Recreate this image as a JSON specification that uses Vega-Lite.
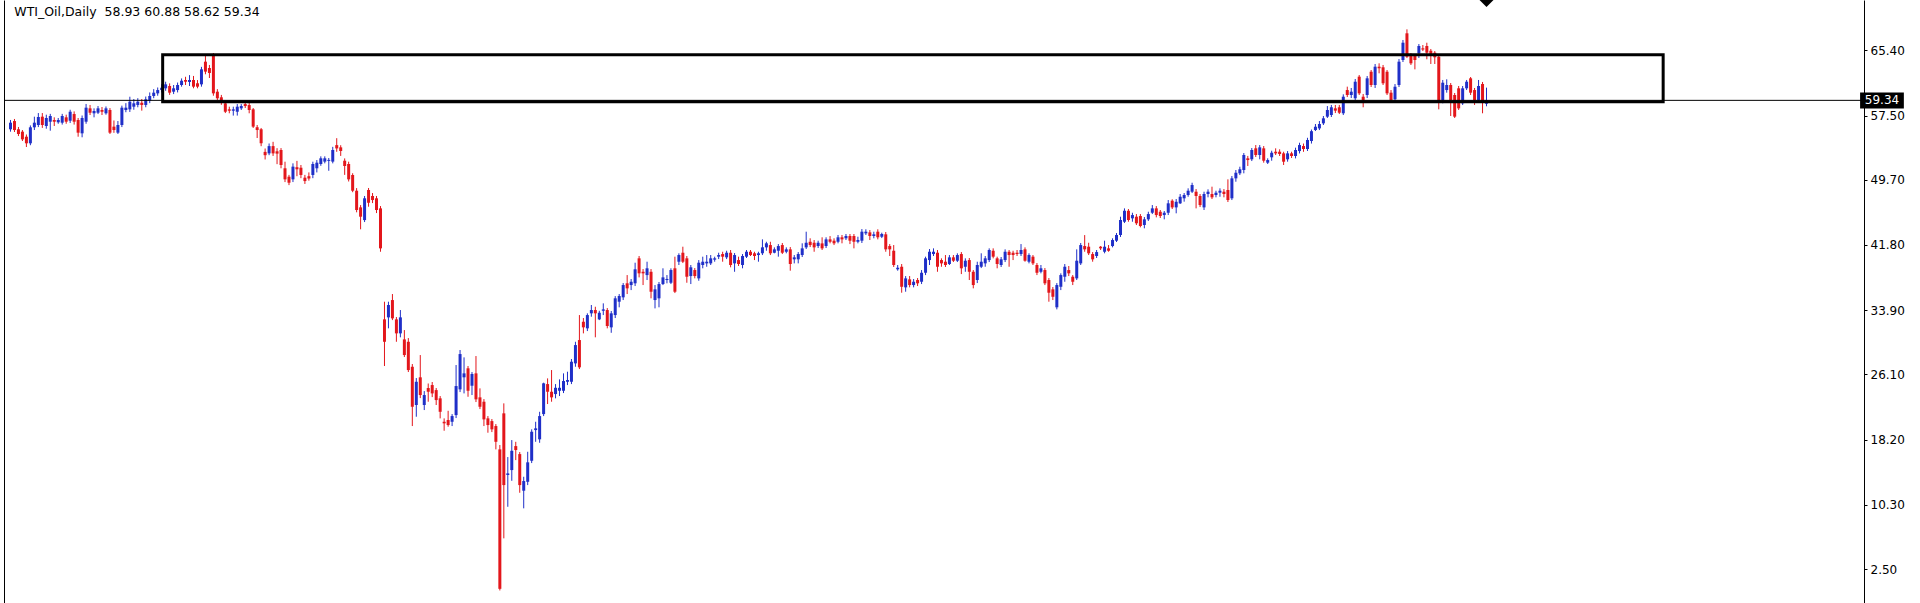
{
"$schema":"https://vega.github.io/schema/vega-lite/v6.json",
"autosize":"none",
"width":1860,"height":603,
"padding":{"left":4,"top":0,"right":56,"bottom":0},
"background":"white",
"view":{"stroke":null},
"config":{"font":"DejaVu Sans"},
"datasets":{
"candles":[
{"i":0,"o":55.83,"h":56.96,"l":55.54,"c":56.63},{"i":1,"o":56.83,"h":57.08,"l":55.5,"c":55.74},{"i":2,"o":55.83,"h":56.11,"l":55.01,"c":55.26},{"i":3,"o":55.54,"h":55.74,"l":54.41,"c":54.61},{"i":4,"o":54.93,"h":55.2,"l":53.68,"c":54.13},{"i":5,"o":54.13,"h":56.3,"l":53.9,"c":56.07},{"i":6,"o":56.07,"h":57.36,"l":55.74,"c":56.63},{"i":7,"o":56.35,"h":57.8,"l":56.1,"c":57.32},{"i":8,"o":57.36,"h":57.8,"l":56.0,"c":56.35},{"i":9,"o":56.23,"h":57.6,"l":55.9,"c":57.2},
{"i":10,"o":56.75,"h":57.7,"l":55.66,"c":57.44},{"i":11,"o":56.96,"h":57.28,"l":56.23,"c":56.75},{"i":12,"o":56.68,"h":57.2,"l":56.5,"c":56.96},{"i":13,"o":56.63,"h":57.7,"l":56.4,"c":57.44},{"i":14,"o":57.28,"h":57.6,"l":56.5,"c":56.75},{"i":15,"o":56.87,"h":58.2,"l":56.6,"c":57.96},{"i":16,"o":57.68,"h":58.0,"l":56.4,"c":56.75},{"i":17,"o":56.96,"h":57.2,"l":54.93,"c":55.42},{"i":18,"o":55.34,"h":57.5,"l":54.86,"c":57.2},{"i":19,"o":56.75,"h":58.9,"l":56.5,"c":58.45},
{"i":20,"o":58.37,"h":58.78,"l":57.56,"c":57.84},{"i":21,"o":57.77,"h":58.37,"l":57.28,"c":58.05},{"i":22,"o":57.84,"h":58.65,"l":57.68,"c":58.37},{"i":23,"o":58.17,"h":58.53,"l":57.56,"c":57.96},{"i":24,"o":57.77,"h":58.6,"l":57.6,"c":58.37},{"i":25,"o":58.17,"h":58.4,"l":55.26,"c":55.42},{"i":26,"o":56.15,"h":56.9,"l":55.4,"c":55.74},{"i":27,"o":55.42,"h":56.83,"l":55.26,"c":56.35},{"i":28,"o":56.35,"h":58.7,"l":56.1,"c":58.45},{"i":29,"o":58.17,"h":59.0,"l":57.9,"c":58.45},
{"i":30,"o":58.25,"h":59.78,"l":57.93,"c":59.18},{"i":31,"o":58.57,"h":59.5,"l":58.2,"c":58.98},{"i":32,"o":58.78,"h":59.6,"l":58.5,"c":59.18},{"i":33,"o":59.05,"h":59.5,"l":58.09,"c":58.78},{"i":34,"o":58.78,"h":59.8,"l":58.5,"c":59.47},{"i":35,"o":59.3,"h":60.3,"l":59.0,"c":59.87},{"i":36,"o":59.87,"h":60.7,"l":59.6,"c":60.27},{"i":37,"o":60.19,"h":60.9,"l":59.9,"c":60.59},{"i":38,"o":60.59,"h":61.3,"l":60.3,"c":60.87},{"i":39,"o":60.8,"h":61.6,"l":60.5,"c":61.28},
{"i":40,"o":61.08,"h":61.4,"l":60.0,"c":60.27},{"i":41,"o":60.39,"h":61.2,"l":60.1,"c":60.8},{"i":42,"o":60.59,"h":61.5,"l":60.3,"c":61.2},{"i":43,"o":61.2,"h":62.0,"l":61.0,"c":61.72},{"i":44,"o":61.81,"h":62.2,"l":61.2,"c":61.6},{"i":45,"o":61.57,"h":62.4,"l":61.08,"c":61.81},{"i":46,"o":61.81,"h":62.3,"l":60.8,"c":61.0},{"i":47,"o":61.41,"h":61.8,"l":60.8,"c":61.0},{"i":48,"o":61.28,"h":63.4,"l":61.0,"c":63.1},{"i":49,"o":64.03,"h":64.84,"l":62.5,"c":62.82},
{"i":50,"o":63.26,"h":63.63,"l":62.05,"c":62.66},{"i":51,"o":64.84,"h":65.08,"l":59.9,"c":60.19},{"i":52,"o":60.39,"h":60.7,"l":59.38,"c":59.59},{"i":53,"o":59.71,"h":60.0,"l":58.8,"c":59.05},{"i":54,"o":58.98,"h":59.26,"l":57.8,"c":57.96},{"i":55,"o":58.25,"h":58.57,"l":57.77,"c":58.08},{"i":56,"o":58.08,"h":58.57,"l":57.49,"c":58.25},{"i":57,"o":57.96,"h":58.89,"l":57.49,"c":58.57},{"i":58,"o":58.37,"h":58.89,"l":58.17,"c":58.65},{"i":59,"o":58.89,"h":59.14,"l":58.41,"c":58.65},
{"i":60,"o":58.77,"h":59.02,"l":57.77,"c":58.17},{"i":61,"o":58.25,"h":58.41,"l":55.99,"c":56.15},{"i":62,"o":56.08,"h":56.35,"l":54.77,"c":55.74},{"i":63,"o":55.83,"h":55.99,"l":53.78,"c":54.13},{"i":64,"o":53.09,"h":53.5,"l":52.17,"c":52.69},{"i":65,"o":52.91,"h":54.11,"l":52.69,"c":53.79},{"i":66,"o":53.79,"h":54.31,"l":52.6,"c":52.91},{"i":67,"o":53.16,"h":53.54,"l":51.6,"c":52.88},{"i":68,"o":53.32,"h":53.55,"l":51.1,"c":51.5},{"i":69,"o":51.1,"h":51.9,"l":49.43,"c":49.76},
{"i":70,"o":50.08,"h":50.3,"l":49.06,"c":49.35},{"i":71,"o":49.76,"h":51.7,"l":49.43,"c":51.3},{"i":72,"o":51.23,"h":52.0,"l":50.14,"c":50.98},{"i":73,"o":51.17,"h":51.5,"l":49.9,"c":50.29},{"i":74,"o":49.96,"h":50.3,"l":49.2,"c":49.55},{"i":75,"o":50.14,"h":50.6,"l":49.6,"c":49.86},{"i":76,"o":50.29,"h":51.9,"l":49.9,"c":51.62},{"i":77,"o":51.1,"h":52.1,"l":50.6,"c":51.78},{"i":78,"o":51.62,"h":52.55,"l":51.4,"c":52.31},{"i":79,"o":51.91,"h":52.55,"l":51.7,"c":52.31},
{"i":80,"o":52.0,"h":52.35,"l":50.8,"c":52.12},{"i":81,"o":51.91,"h":53.7,"l":51.7,"c":53.32},{"i":82,"o":53.91,"h":54.75,"l":53.1,"c":53.51},{"i":83,"o":53.64,"h":53.9,"l":52.6,"c":53.2},{"i":84,"o":52.02,"h":52.3,"l":50.3,"c":51.38},{"i":85,"o":51.62,"h":51.9,"l":49.5,"c":49.76},{"i":86,"o":50.29,"h":50.5,"l":48.2,"c":48.38},{"i":87,"o":48.38,"h":48.7,"l":45.76,"c":46.04},{"i":88,"o":46.36,"h":46.64,"l":43.7,"c":45.23},{"i":89,"o":44.82,"h":47.74,"l":44.58,"c":47.46},
{"i":90,"o":48.47,"h":48.71,"l":46.44,"c":46.92},{"i":91,"o":47.74,"h":48.1,"l":46.88,"c":47.25},{"i":92,"o":47.46,"h":47.74,"l":45.67,"c":46.04},{"i":93,"o":46.24,"h":46.52,"l":40.98,"c":41.39},{"i":94,"o":32.78,"h":34.92,"l":27.12,"c":30.06},{"i":95,"o":33.02,"h":34.92,"l":31.69,"c":34.52},{"i":96,"o":35.12,"h":35.85,"l":32.69,"c":32.9},{"i":97,"o":32.78,"h":33.06,"l":30.06,"c":31.08},{"i":98,"o":31.08,"h":33.91,"l":30.6,"c":33.02},{"i":99,"o":30.35,"h":31.48,"l":28.21,"c":28.45},
{"i":100,"o":30.06,"h":30.51,"l":26.39,"c":26.63},{"i":101,"o":27.03,"h":27.36,"l":19.84,"c":22.18},{"i":102,"o":22.39,"h":25.66,"l":20.97,"c":25.21},{"i":103,"o":25.75,"h":28.45,"l":23.23,"c":23.6},{"i":104,"o":22.39,"h":24.08,"l":21.78,"c":23.6},{"i":105,"o":24.45,"h":25.0,"l":22.79,"c":24.0},{"i":106,"o":24.81,"h":25.18,"l":23.35,"c":23.8},{"i":107,"o":24.2,"h":24.45,"l":22.39,"c":22.99},{"i":108,"o":23.2,"h":23.48,"l":20.77,"c":21.57},{"i":109,"o":20.36,"h":20.77,"l":19.27,"c":20.17},
{"i":110,"o":20.57,"h":21.69,"l":19.76,"c":19.96},{"i":111,"o":20.36,"h":21.29,"l":19.84,"c":21.05},{"i":112,"o":21.17,"h":27.24,"l":20.81,"c":24.69},{"i":113,"o":24.29,"h":29.06,"l":23.96,"c":28.57},{"i":114,"o":25.75,"h":28.17,"l":23.8,"c":26.23},{"i":115,"o":26.84,"h":27.12,"l":23.39,"c":24.12},{"i":116,"o":24.73,"h":26.39,"l":23.6,"c":26.15},{"i":117,"o":26.23,"h":28.33,"l":22.75,"c":23.08},{"i":118,"o":23.32,"h":24.41,"l":21.9,"c":22.18},{"i":119,"o":22.79,"h":23.11,"l":19.84,"c":20.65},
{"i":120,"o":20.77,"h":21.05,"l":19.03,"c":19.96},{"i":121,"o":20.44,"h":20.69,"l":19.11,"c":19.44},{"i":122,"o":19.84,"h":20.08,"l":17.01,"c":17.93},{"i":123,"o":17.01,"h":17.54,"l":-0.1,"c":0.1},{"i":124,"o":21.38,"h":22.59,"l":6.22,"c":12.68},{"i":125,"o":13.9,"h":16.08,"l":10.05,"c":14.1},{"i":126,"o":14.5,"h":18.14,"l":13.2,"c":16.84},{"i":127,"o":17.41,"h":17.93,"l":15.71,"c":16.93},{"i":128,"o":16.44,"h":16.69,"l":11.75,"c":12.68},{"i":129,"o":12.0,"h":13.69,"l":9.86,"c":13.17},
{"i":130,"o":13.08,"h":16.72,"l":12.68,"c":15.44},{"i":131,"o":15.63,"h":19.44,"l":15.35,"c":19.15},{"i":132,"o":19.35,"h":20.36,"l":17.93,"c":19.56},{"i":133,"o":18.23,"h":21.57,"l":17.81,"c":21.05},{"i":134,"o":21.29,"h":25.1,"l":21.05,"c":25.02},{"i":135,"o":24.93,"h":25.62,"l":22.51,"c":24.0},{"i":136,"o":24.0,"h":26.63,"l":22.79,"c":23.32},{"i":137,"o":23.72,"h":24.93,"l":23.2,"c":24.48},{"i":138,"o":24.12,"h":25.5,"l":23.48,"c":24.48},{"i":139,"o":24.12,"h":26.23,"l":23.84,"c":25.3},
{"i":140,"o":25.21,"h":26.43,"l":24.81,"c":25.42},{"i":141,"o":25.21,"h":27.97,"l":24.93,"c":27.64},{"i":142,"o":27.44,"h":30.06,"l":27.03,"c":29.66},{"i":143,"o":30.27,"h":33.3,"l":26.75,"c":26.96},{"i":144,"o":32.49,"h":32.94,"l":31.08,"c":31.81},{"i":145,"o":31.69,"h":33.51,"l":31.36,"c":33.3},{"i":146,"o":33.51,"h":34.52,"l":33.1,"c":33.91},{"i":147,"o":33.91,"h":34.31,"l":30.6,"c":33.51},{"i":148,"o":32.78,"h":33.82,"l":32.69,"c":33.58},{"i":149,"o":33.82,"h":34.72,"l":33.3,"c":33.99},
{"i":150,"o":33.91,"h":34.15,"l":31.69,"c":31.97},{"i":151,"o":31.81,"h":33.79,"l":31.15,"c":33.51},{"i":152,"o":33.3,"h":35.6,"l":32.94,"c":35.33},{"i":153,"o":34.92,"h":35.85,"l":34.24,"c":35.61},{"i":154,"o":35.45,"h":37.18,"l":35.12,"c":36.94},{"i":155,"o":37.15,"h":38.15,"l":35.85,"c":36.54},{"i":156,"o":36.94,"h":37.67,"l":36.33,"c":37.34},{"i":157,"o":37.15,"h":39.65,"l":36.82,"c":38.85},{"i":158,"o":40.18,"h":40.46,"l":37.87,"c":38.36},{"i":159,"o":38.55,"h":38.88,"l":36.94,"c":38.36},
{"i":160,"o":38.15,"h":39.77,"l":37.55,"c":38.97},{"i":161,"o":38.55,"h":38.88,"l":35.33,"c":36.13},{"i":162,"o":35.12,"h":36.94,"l":34.11,"c":36.42},{"i":163,"o":35.33,"h":37.31,"l":34.24,"c":37.06},{"i":164,"o":37.06,"h":38.97,"l":36.94,"c":37.87},{"i":165,"o":37.55,"h":38.15,"l":37.15,"c":37.68},{"i":166,"o":37.22,"h":38.97,"l":37.06,"c":38.76},{"i":167,"o":38.97,"h":40.38,"l":35.97,"c":36.13},{"i":168,"o":39.77,"h":40.79,"l":39.37,"c":40.58},{"i":169,"o":40.86,"h":41.59,"l":39.61,"c":39.77},
{"i":170,"o":40.18,"h":40.46,"l":37.22,"c":37.95},{"i":171,"o":38.03,"h":39.37,"l":37.06,"c":39.09},{"i":172,"o":38.76,"h":39.0,"l":37.75,"c":38.03},{"i":173,"o":37.75,"h":39.97,"l":37.46,"c":39.65},{"i":174,"o":39.37,"h":40.38,"l":38.97,"c":39.77},{"i":175,"o":39.57,"h":40.58,"l":39.16,"c":39.77},{"i":176,"o":39.57,"h":40.58,"l":39.37,"c":40.18},{"i":177,"o":40.02,"h":40.38,"l":39.77,"c":40.18},{"i":178,"o":40.38,"h":40.86,"l":40.09,"c":40.58},{"i":179,"o":40.7,"h":40.98,"l":39.77,"c":40.38},
{"i":180,"o":40.3,"h":41.1,"l":40.09,"c":40.86},{"i":181,"o":40.86,"h":41.19,"l":39.09,"c":39.37},{"i":182,"o":39.57,"h":40.82,"l":38.55,"c":40.58},{"i":183,"o":39.97,"h":40.38,"l":39.25,"c":39.49},{"i":184,"o":39.37,"h":40.7,"l":38.97,"c":40.46},{"i":185,"o":40.38,"h":41.19,"l":40.22,"c":40.98},{"i":186,"o":40.98,"h":41.19,"l":40.46,"c":40.58},{"i":187,"o":40.79,"h":40.98,"l":39.97,"c":40.46},{"i":188,"o":40.58,"h":40.98,"l":39.77,"c":40.79},{"i":189,"o":40.79,"h":42.48,"l":40.58,"c":41.51},
{"i":190,"o":41.51,"h":42.19,"l":41.1,"c":42.0},{"i":191,"o":41.79,"h":42.19,"l":40.58,"c":40.79},{"i":192,"o":40.86,"h":41.51,"l":40.79,"c":41.27},{"i":193,"o":41.1,"h":41.91,"l":40.38,"c":41.67},{"i":194,"o":41.79,"h":42.04,"l":40.7,"c":40.86},{"i":195,"o":40.98,"h":41.51,"l":40.79,"c":41.27},{"i":196,"o":41.27,"h":41.55,"l":38.68,"c":39.49},{"i":197,"o":40.06,"h":40.58,"l":39.57,"c":40.3},{"i":198,"o":40.06,"h":40.94,"l":39.57,"c":40.7},{"i":199,"o":40.58,"h":42.0,"l":40.34,"c":41.39},
{"i":200,"o":41.51,"h":43.41,"l":41.31,"c":42.07},{"i":201,"o":42.19,"h":42.61,"l":41.55,"c":41.79},{"i":202,"o":42.07,"h":42.4,"l":40.98,"c":41.51},{"i":203,"o":41.67,"h":42.32,"l":41.43,"c":42.07},{"i":204,"o":41.99,"h":42.73,"l":41.19,"c":41.39},{"i":205,"o":41.67,"h":42.73,"l":41.43,"c":42.48},{"i":206,"o":42.48,"h":42.88,"l":42.0,"c":42.19},{"i":207,"o":42.32,"h":42.61,"l":41.79,"c":42.0},{"i":208,"o":42.19,"h":43.01,"l":42.0,"c":42.73},{"i":209,"o":42.73,"h":43.01,"l":42.0,"c":42.48},
{"i":210,"o":42.61,"h":43.13,"l":42.4,"c":42.89},{"i":211,"o":42.89,"h":43.13,"l":41.91,"c":42.32},{"i":212,"o":42.89,"h":43.13,"l":41.39,"c":42.19},{"i":213,"o":42.19,"h":42.8,"l":42.0,"c":42.4},{"i":214,"o":42.32,"h":43.73,"l":42.04,"c":43.41},{"i":215,"o":43.21,"h":43.7,"l":43.01,"c":43.41},{"i":216,"o":43.33,"h":43.61,"l":42.4,"c":42.89},{"i":217,"o":42.89,"h":43.41,"l":42.61,"c":43.09},{"i":218,"o":43.41,"h":43.7,"l":42.48,"c":42.73},{"i":219,"o":42.8,"h":43.29,"l":42.64,"c":43.13},
{"i":220,"o":43.09,"h":43.37,"l":40.98,"c":41.27},{"i":221,"o":41.67,"h":41.91,"l":40.46,"c":41.27},{"i":222,"o":41.1,"h":41.79,"l":39.13,"c":39.37},{"i":223,"o":38.85,"h":39.37,"l":38.68,"c":39.04},{"i":224,"o":39.16,"h":39.49,"l":36.01,"c":36.73},{"i":225,"o":36.66,"h":38.03,"l":36.13,"c":37.75},{"i":226,"o":37.63,"h":38.03,"l":36.66,"c":36.94},{"i":227,"o":36.94,"h":37.67,"l":36.66,"c":37.34},{"i":228,"o":37.55,"h":37.79,"l":36.82,"c":37.15},{"i":229,"o":37.34,"h":38.76,"l":37.06,"c":38.43},
{"i":230,"o":38.43,"h":40.38,"l":38.15,"c":40.18},{"i":231,"o":39.97,"h":41.31,"l":39.37,"c":40.98},{"i":232,"o":40.7,"h":41.39,"l":40.46,"c":40.98},{"i":233,"o":40.86,"h":41.19,"l":38.55,"c":39.16},{"i":234,"o":39.97,"h":40.18,"l":39.16,"c":39.57},{"i":235,"o":39.77,"h":40.58,"l":39.13,"c":39.37},{"i":236,"o":39.49,"h":40.58,"l":39.37,"c":40.3},{"i":237,"o":40.3,"h":40.58,"l":39.73,"c":39.89},{"i":238,"o":39.89,"h":40.79,"l":39.73,"c":40.58},{"i":239,"o":40.7,"h":40.94,"l":38.27,"c":38.97},
{"i":240,"o":39.16,"h":40.18,"l":38.55,"c":39.89},{"i":241,"o":39.97,"h":40.22,"l":37.55,"c":38.55},{"i":242,"o":38.55,"h":38.76,"l":36.54,"c":36.94},{"i":243,"o":37.55,"h":39.77,"l":37.18,"c":39.37},{"i":244,"o":39.16,"h":40.79,"l":39.0,"c":39.77},{"i":245,"o":39.57,"h":40.46,"l":39.16,"c":40.18},{"i":246,"o":39.97,"h":41.39,"l":39.73,"c":41.19},{"i":247,"o":41.1,"h":41.39,"l":40.18,"c":40.38},{"i":248,"o":40.18,"h":40.38,"l":38.97,"c":39.49},{"i":249,"o":39.37,"h":40.34,"l":39.13,"c":40.06},
{"i":250,"o":39.97,"h":41.27,"l":39.73,"c":40.98},{"i":251,"o":40.98,"h":41.19,"l":39.16,"c":40.58},{"i":252,"o":40.86,"h":41.1,"l":39.97,"c":40.58},{"i":253,"o":40.86,"h":41.19,"l":40.46,"c":40.7},{"i":254,"o":40.7,"h":41.91,"l":40.46,"c":41.19},{"i":255,"o":41.27,"h":41.51,"l":39.77,"c":39.89},{"i":256,"o":39.77,"h":40.79,"l":39.57,"c":40.58},{"i":257,"o":40.38,"h":40.58,"l":39.37,"c":39.57},{"i":258,"o":39.37,"h":39.61,"l":38.15,"c":38.43},{"i":259,"o":38.55,"h":39.37,"l":38.36,"c":38.97},
{"i":260,"o":38.76,"h":39.0,"l":36.94,"c":37.15},{"i":261,"o":37.55,"h":37.79,"l":34.92,"c":36.01},{"i":262,"o":36.42,"h":36.7,"l":35.12,"c":35.52},{"i":263,"o":34.24,"h":37.18,"l":33.99,"c":36.94},{"i":264,"o":36.73,"h":38.36,"l":36.33,"c":38.15},{"i":265,"o":37.95,"h":39.49,"l":37.34,"c":39.16},{"i":266,"o":38.76,"h":39.25,"l":38.03,"c":38.36},{"i":267,"o":37.95,"h":38.15,"l":36.94,"c":37.34},{"i":268,"o":37.75,"h":41.27,"l":37.55,"c":39.89},{"i":269,"o":39.57,"h":42.04,"l":39.37,"c":41.79},
{"i":270,"o":41.67,"h":43.0,"l":40.98,"c":41.27},{"i":271,"o":41.59,"h":42.07,"l":40.58,"c":40.79},{"i":272,"o":40.7,"h":40.94,"l":39.77,"c":40.06},{"i":273,"o":40.46,"h":41.19,"l":40.22,"c":40.94},{"i":274,"o":41.59,"h":41.67,"l":41.19,"c":41.39},{"i":275,"o":40.98,"h":42.32,"l":40.79,"c":41.59},{"i":276,"o":41.39,"h":41.79,"l":40.98,"c":41.1},{"i":277,"o":41.67,"h":42.61,"l":41.51,"c":42.4},{"i":278,"o":42.32,"h":43.25,"l":42.16,"c":43.01},{"i":279,"o":43.01,"h":45.23,"l":42.77,"c":44.83},
{"i":280,"o":44.62,"h":46.24,"l":44.46,"c":45.95},{"i":281,"o":45.95,"h":46.16,"l":44.62,"c":44.83},{"i":282,"o":45.03,"h":45.71,"l":44.62,"c":45.43},{"i":283,"o":45.23,"h":45.55,"l":44.22,"c":44.43},{"i":284,"o":45.31,"h":45.55,"l":43.94,"c":44.1},{"i":285,"o":44.22,"h":45.19,"l":43.82,"c":44.91},{"i":286,"o":44.91,"h":45.83,"l":44.71,"c":45.55},{"i":287,"o":45.71,"h":46.64,"l":45.55,"c":46.24},{"i":288,"o":46.24,"h":46.52,"l":45.15,"c":45.43},{"i":289,"o":45.83,"h":46.04,"l":45.07,"c":45.31},
{"i":290,"o":45.43,"h":45.92,"l":44.91,"c":45.71},{"i":291,"o":45.71,"h":47.25,"l":45.43,"c":46.85},{"i":292,"o":47.17,"h":47.34,"l":46.16,"c":46.36},{"i":293,"o":46.36,"h":47.37,"l":45.64,"c":47.04},{"i":294,"o":46.85,"h":47.98,"l":46.77,"c":47.65},{"i":295,"o":47.46,"h":48.1,"l":47.05,"c":47.86},{"i":296,"o":47.86,"h":48.67,"l":47.65,"c":48.38},{"i":297,"o":48.26,"h":49.35,"l":48.1,"c":49.07},{"i":298,"o":48.26,"h":48.58,"l":46.24,"c":47.74},{"i":299,"o":47.74,"h":47.98,"l":46.4,"c":46.64},
{"i":300,"o":46.36,"h":48.26,"l":46.04,"c":47.98},{"i":301,"o":47.98,"h":48.55,"l":47.58,"c":48.26},{"i":302,"o":47.98,"h":48.87,"l":47.37,"c":47.58},{"i":303,"o":47.86,"h":48.38,"l":47.58,"c":48.14},{"i":304,"o":48.14,"h":48.67,"l":47.65,"c":48.38},{"i":305,"o":48.26,"h":48.58,"l":47.58,"c":47.98},{"i":306,"o":48.47,"h":49.76,"l":47.01,"c":47.25},{"i":307,"o":47.46,"h":50.16,"l":47.25,"c":49.88},{"i":308,"o":49.88,"h":50.89,"l":49.47,"c":50.56},{"i":309,"o":50.49,"h":51.29,"l":50.28,"c":50.98},
{"i":310,"o":50.89,"h":52.95,"l":50.49,"c":52.71},{"i":311,"o":52.31,"h":52.6,"l":51.38,"c":52.1},{"i":312,"o":52.19,"h":53.56,"l":51.98,"c":53.32},{"i":313,"o":53.52,"h":53.92,"l":52.47,"c":52.71},{"i":314,"o":52.71,"h":53.92,"l":52.19,"c":53.64},{"i":315,"o":53.52,"h":53.8,"l":51.78,"c":52.02},{"i":316,"o":51.78,"h":52.31,"l":51.62,"c":52.1},{"i":317,"o":52.43,"h":53.23,"l":52.02,"c":52.99},{"i":318,"o":53.11,"h":53.52,"l":52.71,"c":52.91},{"i":319,"o":53.11,"h":53.4,"l":52.59,"c":52.83},
{"i":320,"o":52.91,"h":53.11,"l":51.5,"c":51.9},{"i":321,"o":52.19,"h":53.19,"l":51.9,"c":52.91},{"i":322,"o":52.91,"h":53.11,"l":52.35,"c":52.59},{"i":323,"o":52.59,"h":53.6,"l":52.3,"c":53.32},{"i":324,"o":53.19,"h":54.2,"l":52.9,"c":53.92},{"i":325,"o":53.8,"h":54.1,"l":53.1,"c":53.44},{"i":326,"o":53.44,"h":54.8,"l":53.2,"c":54.53},{"i":327,"o":54.41,"h":55.8,"l":54.1,"c":55.6},{"i":328,"o":55.74,"h":56.47,"l":55.62,"c":56.14},{"i":329,"o":55.94,"h":56.83,"l":55.74,"c":56.47},
{"i":330,"o":56.55,"h":57.44,"l":56.35,"c":57.16},{"i":331,"o":57.36,"h":58.65,"l":57.2,"c":58.17},{"i":332,"o":57.56,"h":58.78,"l":57.32,"c":58.5},{"i":333,"o":58.37,"h":58.78,"l":57.8,"c":58.09},{"i":334,"o":58.5,"h":58.78,"l":57.68,"c":57.84},{"i":335,"o":57.77,"h":60.07,"l":57.56,"c":59.78},{"i":336,"o":60.59,"h":61.0,"l":59.74,"c":59.99},{"i":337,"o":59.99,"h":60.84,"l":59.62,"c":60.39},{"i":338,"o":59.59,"h":61.93,"l":59.38,"c":61.6},{"i":339,"o":62.21,"h":62.41,"l":59.99,"c":60.19},
{"i":340,"o":59.78,"h":60.11,"l":58.5,"c":59.38},{"i":341,"o":59.99,"h":62.29,"l":59.62,"c":62.01},{"i":342,"o":62.81,"h":63.02,"l":60.96,"c":61.2},{"i":343,"o":61.2,"h":63.75,"l":60.84,"c":63.42},{"i":344,"o":63.42,"h":63.83,"l":62.62,"c":63.23},{"i":345,"o":63.35,"h":63.63,"l":61.2,"c":61.41},{"i":346,"o":62.81,"h":63.02,"l":59.99,"c":60.19},{"i":347,"o":60.27,"h":60.59,"l":59.14,"c":59.38},{"i":348,"o":59.47,"h":61.32,"l":59.26,"c":60.99},{"i":349,"o":61.2,"h":64.35,"l":60.96,"c":64.03},
{"i":350,"o":64.23,"h":66.66,"l":63.99,"c":66.33},{"i":351,"o":67.47,"h":67.95,"l":64.47,"c":64.63},{"i":352,"o":64.84,"h":65.08,"l":63.63,"c":63.83},{"i":353,"o":64.72,"h":64.96,"l":63.1,"c":64.23},{"i":354,"o":65.04,"h":66.17,"l":64.48,"c":65.93},{"i":355,"o":65.65,"h":66.05,"l":65.32,"c":65.5},{"i":356,"o":65.93,"h":66.33,"l":64.32,"c":65.12},{"i":357,"o":65.36,"h":65.57,"l":63.75,"c":64.96},{"i":358,"o":65.12,"h":65.32,"l":63.75,"c":64.56},{"i":359,"o":64.63,"h":64.84,"l":58.25,"c":59.17},
{"i":360,"o":59.38,"h":61.81,"l":58.98,"c":61.48},{"i":361,"o":60.59,"h":61.89,"l":60.27,"c":61.2},{"i":362,"o":61.2,"h":61.44,"l":57.44,"c":59.38},{"i":363,"o":59.99,"h":60.23,"l":57.2,"c":57.36},{"i":364,"o":60.8,"h":61.08,"l":58.17,"c":58.37},{"i":365,"o":58.98,"h":61.08,"l":58.78,"c":60.8},{"i":366,"o":60.8,"h":61.81,"l":60.59,"c":61.6},{"i":367,"o":62.01,"h":62.17,"l":59.99,"c":60.27},{"i":368,"o":60.59,"h":60.84,"l":58.78,"c":59.38},{"i":369,"o":59.38,"h":61.81,"l":59.02,"c":61.08},
{"i":370,"o":61.32,"h":61.57,"l":57.77,"c":59.17},{"i":371,"o":58.93,"h":60.88,"l":58.62,"c":59.34}
],
"zone":[{"from":38.25,"to":415.4,"top":64.88,"bottom":59.18}],
"last":[{"i":371,"price":59.34,"label":"59.34","boxLeft":464.9,"boxRight":475.9,"boxTop":60.29,"boxBottom":58.35,"labelX":470.4,"marker":70.66}],
"heading":[{"x":0.95,"y":69.57,"text":"WTI_Oil,Daily\u00a0\u00a058.93 60.88 58.62 59.34"}]
},
"layer":[
{"data":{"name":"candles"},
 "mark":{"type":"rule","strokeWidth":1},
 "encoding":{
  "x":{"field":"i","type":"quantitative","scale":{"domain":[-0.375,464.625],"nice":false,"zero":false},"axis":null},
  "y":{"field":"l","type":"quantitative","scale":{"domain":[-1.62,71.51],"nice":false,"zero":false},
       "axis":{"orient":"right","title":null,"values":[65.4,57.5,49.7,41.8,33.9,26.1,18.2,10.3,2.5],"format":".2f","grid":false,
               "domainColor":"#000000","domainWidth":1,"tickColor":"#000000","tickSize":3,"tickWidth":1,
               "labelColor":"#000000","labelFont":"DejaVu Sans","labelFontSize":12,"labelPadding":3,"labelFlush":false,"labelOverlap":false}},
  "y2":{"field":"h"},
  "color":{"condition":{"test":"datum.c >= datum.o","value":"#1f2fc8"},"value":"#e3161b"}
 }},
{"data":{"name":"candles"},
 "mark":{"type":"bar","size":3},
 "encoding":{
  "x":{"field":"i","type":"quantitative","scale":{"domain":[-0.375,464.625],"nice":false,"zero":false},"axis":null},
  "y":{"field":"o","type":"quantitative","scale":{"domain":[-1.62,71.51],"nice":false,"zero":false},
       "axis":{"orient":"left","title":null,"labels":false,"ticks":false,"grid":false,"domainColor":"#000000","domainWidth":1}},
  "y2":{"field":"c"},
  "color":{"condition":{"test":"datum.c >= datum.o","value":"#1f2fc8"},"value":"#e3161b"}
 }},
{"data":{"name":"last"},
 "mark":{"type":"rule","color":"#000000","strokeWidth":1},
 "encoding":{"y":{"field":"price","type":"quantitative","axis":null}}},
{"data":{"name":"zone"},
 "mark":{"type":"rect","fill":null,"fillOpacity":0,"stroke":"#000000","strokeWidth":3},
 "encoding":{
  "x":{"field":"from","type":"quantitative","axis":null},"x2":{"field":"to"},
  "y":{"field":"top","type":"quantitative","axis":null},"y2":{"field":"bottom"}}},
{"data":{"name":"last"},
 "mark":{"type":"point","shape":"M-1,-1L1,-1L0,0Z","size":225,"filled":true,"color":"#000000","opacity":1,"strokeWidth":0},
 "encoding":{
  "x":{"field":"i","type":"quantitative","axis":null},
  "y":{"field":"marker","type":"quantitative","axis":null}}},
{"data":{"name":"last"},
 "mark":{"type":"rect","color":"#000000"},
 "encoding":{
  "x":{"field":"boxLeft","type":"quantitative","axis":null},"x2":{"field":"boxRight"},
  "y":{"field":"boxTop","type":"quantitative","axis":null},"y2":{"field":"boxBottom"}}},
{"data":{"name":"last"},
 "mark":{"type":"text","color":"#ffffff","font":"DejaVu Sans","fontSize":12,"align":"center","baseline":"middle"},
 "encoding":{
  "x":{"field":"labelX","type":"quantitative","axis":null},
  "y":{"field":"price","type":"quantitative","axis":null},
  "text":{"field":"label"}}},
{"data":{"name":"heading"},
 "mark":{"type":"text","color":"#000000","font":"DejaVu Sans","fontSize":12.5,"align":"left","baseline":"alphabetic"},
 "encoding":{
  "x":{"field":"x","type":"quantitative","axis":null},
  "y":{"field":"y","type":"quantitative","axis":null},
  "text":{"field":"text"}}}
],
"resolve":{"axis":{"y":"independent"}}
}
